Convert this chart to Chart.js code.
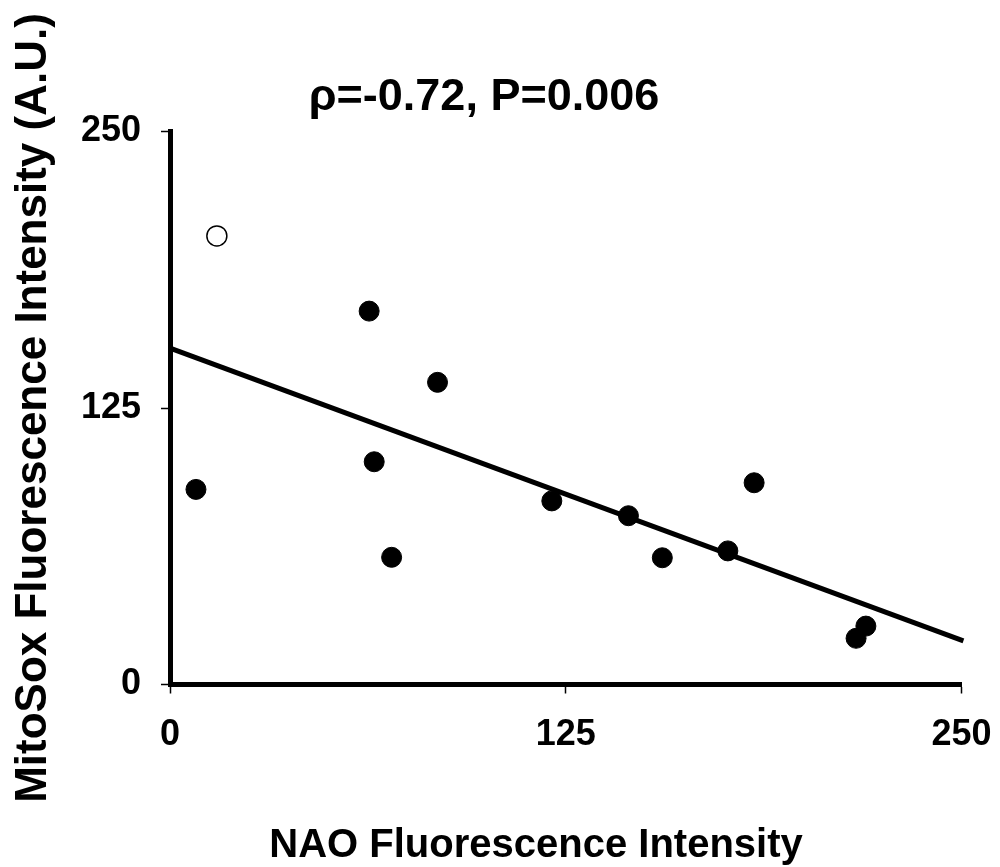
<!DOCTYPE html>
<html>
<head>
<meta charset="utf-8">
<script src="https://cdn.jsdelivr.net/npm/chart.js@4.4.1/dist/chart.umd.min.js"></script>
<style>
  body { margin: 0; background: #fff; }
  #wrap { width: 1000px; height: 867px; }
</style>
</head>
<body>
<div id="wrap"><canvas id="myChart"></canvas></div>
<script>
// values
var naoFilled = [8.2, 62.9, 64.5, 70.0, 84.5, 120.6, 144.8, 155.5, 176.2, 184.5, 216.7, 219.8]
var mitoFilled = [88.2, 168.8, 100.7, 57.5, 136.6, 83.0, 76.3, 57.3, 60.4, 91.2, 20.9, 26.4]
var naoOpen = [14.8]
var mitoOpen = [202.8]
var fitX = [0, 250.6]
var fitY = [152.1, 19.7]
var xTicks = [0, 125, 250]
var yTicks = [0, 125, 250]

var titleText = 'ρ=-0.72, P=0.006'
var xTitle = 'NAO Fluorescence Intensity'
var yTitle = 'MitoSox Fluorescence Intensity (A.U.)'

var FONT = '"Liberation Sans", Arial, sans-serif'

function pairs(xs, ys) {
    var out = []
    for (var i in xs) {
        out.push({ x: xs[i], y: ys[i] })
    }
    return out
}

// main title and x title are drawn by hand so they sit where the original has them
var textPlugin = {
    id: 'textPlugin',
    afterDraw: function (chart) {
        var ctx = chart.ctx
        ctx.save()
        ctx.fillStyle = '#000'
        ctx.textAlign = 'center'
        ctx.textBaseline = 'alphabetic'
        ctx.font = 'bold 45px ' + FONT
        ctx.fillText(titleText, 484, 110)
        ctx.font = 'bold 40px ' + FONT
        ctx.fillText(xTitle, 536, 857)
        ctx.restore()
    }
}

var ctx = document.getElementById('myChart').getContext('2d');
var chart = new Chart(ctx, {
    type: 'scatter',
    data: {
        datasets: [{
            label: 'fit',
            type: 'line',
            data: pairs(fitX, fitY),
            borderColor: '#000',
            borderWidth: 5,
            pointRadius: 0,
            fill: false,
            clip: false,
            order: 2
        }, {
            label: 'open',
            data: pairs(naoOpen, mitoOpen),
            backgroundColor: '#fff',
            borderColor: '#000',
            borderWidth: 1.5,
            pointRadius: 10,
            order: 1
        }, {
            label: 'filled',
            data: pairs(naoFilled, mitoFilled),
            backgroundColor: '#000',
            borderColor: '#000',
            borderWidth: 1,
            pointRadius: 10,
            order: 1
        }]
    },
    options: {
        responsive: true,
        maintainAspectRatio: false,
        animation: false,
        layout: { padding: { top: 131.5, right: 38.5, left: 0, bottom: 0 } },
        plugins: {
            legend: { display: false },
            tooltip: { enabled: false }
        },
        scales: {
            x: {
                type: 'linear',
                min: 0,
                max: 250,
                afterFit: function (scale) {
                    scale.height = 182.5
                    scale.paddingRight = 0
                    scale.paddingLeft = 0
                },
                afterBuildTicks: function (scale) {
                    scale.ticks = xTicks.map(function (v) { return { value: v } })
                },
                border: { display: true, color: '#000', width: 5 },
                grid: { drawOnChartArea: false, drawTicks: true, tickLength: 9, tickColor: '#000', tickWidth: 1.5 },
                ticks: { color: '#000', padding: 20, maxRotation: 0, font: { family: FONT, size: 36, weight: 'bold' } }
            },
            y: {
                type: 'linear',
                min: 0,
                max: 250,
                afterFit: function (scale) { scale.width = 170 },
                afterBuildTicks: function (scale) {
                    scale.ticks = yTicks.map(function (v) { return { value: v } })
                },
                border: { display: true, color: '#000', width: 5 },
                grid: { drawOnChartArea: false, drawTicks: true, tickLength: 9, tickColor: '#000', tickWidth: 1.5 },
                ticks: { color: '#000', padding: 20, font: { family: FONT, size: 36, weight: 'bold' } },
                title: {
                    display: true,
                    text: yTitle,
                    color: '#000',
                    padding: { top: 7, bottom: 0 },
                    font: { family: FONT, size: 44, weight: 'bold' }
                }
            }
        }
    },
    plugins: [textPlugin]
});
</script>
</body>
</html>
